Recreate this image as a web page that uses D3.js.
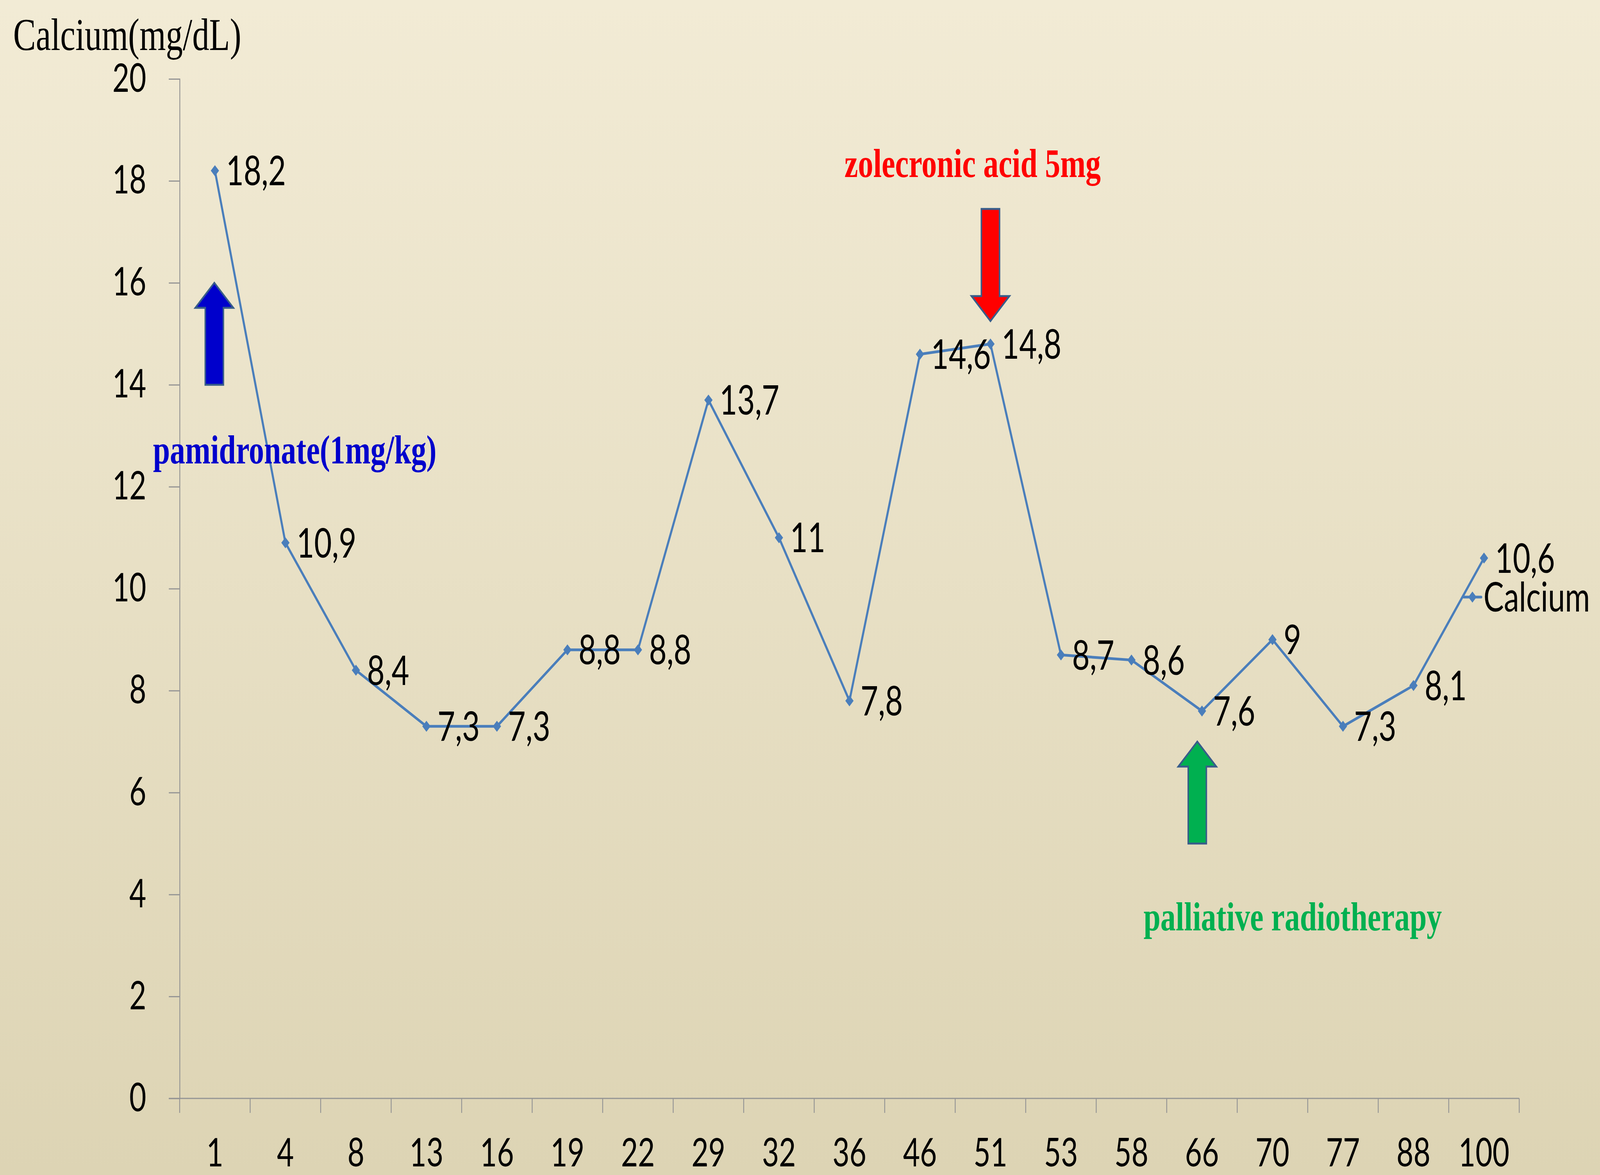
<!DOCTYPE html>
<html>
<head>
<meta charset="utf-8">
<script src="https://cdn.jsdelivr.net/npm/d3@7"></script>
<style>
  html, body { margin: 0; padding: 0; width: 100%; height: 100%; overflow: hidden; }
  svg { display: block; width: 100vw; height: 100vh; }
</style>
</head>
<body>
<svg id="chart" viewBox="0 0 5468 3007" preserveAspectRatio="none"></svg>
<script>
// ---- data ----
const categories = ["1","4","8","13","16","19","22","29","32","36","46","51","53","58","66","70","77","88","100"];
const calcium = [18.2, 10.9, 8.4, 7.3, 7.3, 8.8, 8.8, 13.7, 11, 7.8, 14.6, 14.8, 8.7, 8.6, 7.6, 9, 7.3, 8.1, 10.6];
const yTicks = [0, 2, 4, 6, 8, 10, 12, 14, 16, 18, 20];
const seriesName = "Calcium";
const yTitle = "Calcium(mg/dL)";
// annotation arrows: category, tail value, tip value
const arrowCats = ["1", "51", "66"];
const arrowTail = [14, 17.45, 5];
const arrowTip = [16, 15.25, 7];
const arrowColors = ["#0000CC", "#FF0000", "#00B050"];
const noteTexts = ["pamidronate(1mg/kg)", "zolecronic acid 5mg", "palliative radiotherapy"];

// ---- layout ----
const svg = d3.select("#chart");
const W = 5468, H = 3007;
const x = d3.scaleBand().domain(categories).range([614, 5192]).paddingInner(0).paddingOuter(0);
const y = d3.scaleLinear().domain([0, 20]).range([2811, 202]);

const defs = svg.append("defs");
const grad = defs.append("linearGradient").attr("id", "bg").attr("x1", 0).attr("y1", 0).attr("x2", 0).attr("y2", 1);
grad.append("stop").attr("offset", "0%").attr("stop-color", "#F2EBD5");
grad.append("stop").attr("offset", "100%").attr("stop-color", "#DDD4B4");
svg.append("rect").attr("width", W).attr("height", H).attr("fill", "url(#bg)");

const axisColor = "#949494";
const tickFont = "Lato, 'Open Sans', sans-serif";

// y axis
const yAxis = svg.append("g").attr("transform", "translate(614,0)")
  .call(d3.axisLeft(y).tickValues(yTicks).tickSize(37).tickPadding(77).tickFormat(d3.format("d")));
yAxis.select(".domain").attr("stroke", axisColor).attr("stroke-width", 3);
yAxis.selectAll(".tick line").attr("stroke", axisColor).attr("stroke-width", 3);
yAxis.selectAll(".tick text").attr("font-family", tickFont).attr("font-size", 100).attr("fill", "#000");

// x axis (labels at centers, ticks at boundaries)
const xAxis = svg.append("g").attr("transform", "translate(0,2811)")
  .call(d3.axisBottom(x).tickSize(0).tickPadding(103));
xAxis.select(".domain").remove();
xAxis.selectAll(".tick text").attr("font-family", tickFont).attr("font-size", 100).attr("fill", "#000");
svg.append("line").attr("x1", x.range()[0] - 37).attr("x2", x.range()[1])
  .attr("y1", y(0)).attr("y2", y(0)).attr("stroke", axisColor).attr("stroke-width", 3);
const bounds = d3.range(categories.length + 1).map(i => x.range()[0] + i * x.step());
svg.append("g").selectAll("line").data(bounds).join("line")
  .attr("x1", d => d).attr("x2", d => d)
  .attr("y1", y(0)).attr("y2", y(0) + 37)
  .attr("stroke", axisColor).attr("stroke-width", 3);

// y title
svg.append("text").attr("x", 45).attr("y", 128)
  .attr("font-family", "'Liberation Serif', 'Times New Roman', serif")
  .attr("font-size", 116).attr("fill", "#000").text(yTitle);

// series
const pts = categories.map((c, i) => ({ c, v: calcium[i] }));
const cx = d => x(d.c) + x.bandwidth() / 2;
const lineColor = "#4A7EBB";
svg.append("path").datum(pts)
  .attr("d", d3.line().x(cx).y(d => y(d.v)))
  .attr("fill", "none").attr("stroke", lineColor).attr("stroke-width", 7).attr("stroke-linejoin", "round");
const diamond = d3.symbol(d3.symbolSquare, 400);
svg.append("g").selectAll("path").data(pts).join("path")
  .attr("d", diamond)
  .attr("transform", d => `translate(${cx(d)},${y(d.v)}) rotate(45)`)
  .attr("fill", lineColor);
svg.append("g").selectAll("text").data(pts).join("text")
  .attr("x", d => cx(d) + 38).attr("y", d => y(d.v)).attr("dy", "0.36em")
  .attr("font-family", tickFont).attr("font-size", 104).attr("fill", "#000")
  .text(d => String(d.v).replace(".", ","));

// legend
const ly = 1528;
svg.append("line").attr("x1", 5002).attr("x2", 5062).attr("y1", ly).attr("y2", ly)
  .attr("stroke", lineColor).attr("stroke-width", 7).attr("stroke-linecap", "round");
svg.append("path").attr("d", diamond).attr("transform", `translate(5032,${ly}) rotate(45)`).attr("fill", lineColor);
svg.append("text").attr("x", 5070).attr("y", ly).attr("dy", "0.36em")
  .attr("font-family", tickFont).attr("font-size", 104).attr("fill", "#000").text(seriesName);

// annotation arrows
const xOffsets = [-2, 0, -16];
const shaftW = 62, headW = 130, headL = 64;
arrowCats.forEach((c, i) => {
  const ax = x(c) + x.bandwidth() / 2 + xOffsets[i];
  const yt = y(arrowTail[i]), yp = y(arrowTip[i]);
  const dir = yp < yt ? 1 : -1; // 1 = pointing up
  const yh = yp + dir * headL;
  const pts2 = [
    [ax - shaftW / 2, yt], [ax - shaftW / 2, yh], [ax - headW / 2, yh],
    [ax, yp], [ax + headW / 2, yh], [ax + shaftW / 2, yh], [ax + shaftW / 2, yt]
  ];
  svg.append("path").attr("d", d3.line()(pts2) + "Z")
    .attr("fill", arrowColors[i]).attr("stroke", "#385D8A").attr("stroke-width", 5)
    .attr("stroke-linejoin", "miter");
});

// annotation texts
const notePos = [[523, 1186], [2886, 453], [3908, 2381]];
noteTexts.forEach((t, i) => {
  svg.append("text").attr("x", notePos[i][0]).attr("y", notePos[i][1])
    .attr("font-family", "'Liberation Serif', 'Times New Roman', serif")
    .attr("font-weight", "bold").attr("font-size", 104)
    .attr("fill", arrowColors[i]).text(t);
});
</script>
</body>
</html>
